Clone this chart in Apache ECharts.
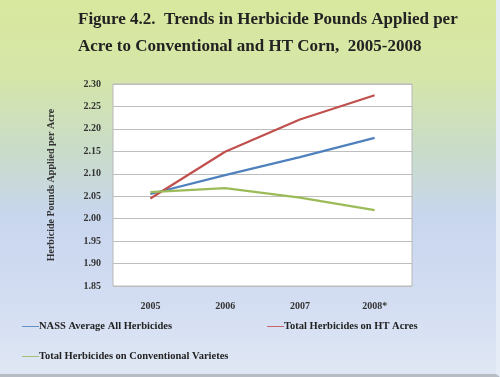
<!DOCTYPE html>
<html>
<head>
<meta charset="utf-8">
<script src="https://cdn.jsdelivr.net/npm/echarts@6/dist/echarts.min.js"></script>
<style>
  html, body { margin: 0; padding: 0; }
  #frame {
    position: absolute; left: 0; top: 0;
    width: 500px; height: 377px;
    background: linear-gradient(to bottom, #d8e89e 0%, #d6e6a8 20%, #c9dcc8 40%, #c8d6ee 58%, #d3ddf2 80%, #dfe7f4 100%);
    box-sizing: border-box;
    border-right: 4px solid #e6ecf6;
    border-bottom: 3px solid #b8bcc4;
  }
  #chart { position: absolute; left: 0; top: 0; width: 500px; height: 377px; }
</style>
</head>
<body>
<div id="frame"></div>
<div id="chart"></div>
<script>
var years = ['2005', '2006', '2007', '2008*'];
var nassAvg = [2.055, 2.097, 2.137, 2.180];
var htAcres = [2.045, 2.149, 2.221, 2.275];
var conventional = [2.059, 2.068, 2.047, 2.019];
var seriesNames = ['NASS Average All Herbicides', 'Total Herbicides on HT Acres', 'Total Herbicides on Conventional Varietes'];

var serif = '"Liberation Serif", "DejaVu Serif", serif';
var lineIcon = 'path://M0,9 L20,9 L20,10 L0,10 Z';

var chart = echarts.init(document.getElementById('chart'));
var option = {
    backgroundColor: 'transparent',
    title: {
        text: 'Figure 4.2.  Trends in Herbicide Pounds Applied per\nAcre to Conventional and HT Corn,  2005-2008',
        left: 73,
        top: 1,
        textStyle: {
            fontFamily: serif,
            fontSize: 17,
            fontWeight: 'bold',
            lineHeight: 27,
            color: '#222'
        }
    },
    legend: [
        { data: [seriesNames[0]], left: 17, top: 316 },
        { data: [seriesNames[1]], left: 262, top: 316 },
        { data: [seriesNames[2]], left: 17, top: 346 }
    ].map(function (l) {
        l.icon = lineIcon;
        l.itemWidth = 17;
        l.itemHeight = 9;
        l.itemGap = 0;
        l.textStyle = { fontFamily: serif, fontSize: 10.5, fontWeight: 'bold', color: '#222', padding: [0, 0, 0, -5] };
        return l;
    }),
    grid: { left: 113, right: 88, top: 84, bottom: 91, show: true, backgroundColor: '#fff', borderColor: '#b8b8b8', borderWidth: 1 },
    xAxis: {
        type: 'category',
        data: years,
        boundaryGap: true,
        axisLine: { show: false },
        axisTick: { show: false },
        axisLabel: { fontFamily: serif, fontSize: 10, fontWeight: 'bold', color: '#333', margin: 15 }
    },
    yAxis: {
        type: 'value',
        min: 1.85,
        max: 2.30,
        interval: 0.05,
        name: 'Herbicide Pounds Applied per Acre',
        nameLocation: 'middle',
        nameGap: 57,
        nameTextStyle: { fontFamily: serif, fontSize: 10, fontWeight: 'bold', color: '#333' },
        axisLine: { show: false },
        axisTick: { show: false },
        splitLine: { lineStyle: { color: '#bdbdbd', width: 1 } },
        axisLabel: {
            fontFamily: serif, fontSize: 10, fontWeight: 'bold', color: '#333', margin: 12,
            formatter: function (v) { return v.toFixed(2); }
        }
    },
    series: [
        { name: seriesNames[0], type: 'line', data: nassAvg, color: '#4f81bd', symbol: 'none', lineStyle: { width: 2.2 } },
        { name: seriesNames[1], type: 'line', data: htAcres, color: '#c0504d', symbol: 'none', lineStyle: { width: 2.2 } },
        { name: seriesNames[2], type: 'line', data: conventional, color: '#9bbb59', symbol: 'none', lineStyle: { width: 2.2 } }
    ],
    animation: false
};
chart.setOption(option);
</script>
</body>
</html>
